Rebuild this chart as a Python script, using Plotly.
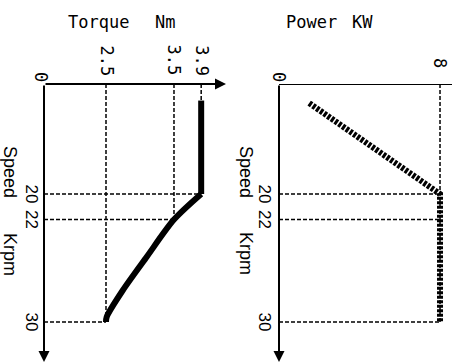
import plotly.graph_objects as go

W, H = 452, 363

# ---- data ----
speed_ticks = [20, 22, 30]
torque_ticks = [2.5, 3.5, 3.9]
power_ticks = [8]
torque_tick_text = ["2.5", "3.5", "3.9"]
power_tick_text = ["8"]
speed_tick_text = ["20", "22", "30"]

speed_const = [12.7, 20]
torque_const = [3.9, 3.9]
speed_weak = [20, 22, 24.9, 27.5, 29.6, 30]
torque_weak = [3.9, 3.5, 3.10, 2.75, 2.51, 2.5]
speed_power = [12.9, 20, 30]
power_vals = [1.5, 8, 8]

# ---- axis geometry (schematic axes; origin is a broken "0") ----
T_ORIG = 1.588          # torque value at the axis corner
P_ORIG = 0.0
S_TOP = 11.406          # speed value at the top axis line
S_BOT = 33.203
T_END = 4.265
P_END = 8.596

def px(x):
    return x / W

def py(y):
    return 1 - y / H

fig = go.Figure()
fig.add_trace(go.Scatter(x=torque_const, y=speed_const, mode="lines",
                         line=dict(color="black", width=6), xaxis="x", yaxis="y"))
fig.add_trace(go.Scatter(x=torque_weak, y=speed_weak, mode="lines",
                         line=dict(color="black", width=6, shape="spline", smoothing=0.8),
                         xaxis="x", yaxis="y"))
fig.add_trace(go.Scatter(x=power_vals, y=speed_power, mode="lines",
                         line=dict(color="black", width=6, dash="3px,1.5px"),
                         xaxis="x2", yaxis="y2"))

dash = dict(color="black", width=1.5, dash="4px,2px")
shapes = []
# torque panel guides
tq_limits = {20: 3.9, 22: 3.5, 30: 2.5}
for s in speed_ticks:
    shapes.append(dict(type="line", xref="x", yref="y", x0=T_ORIG, x1=tq_limits[s],
                       y0=s, y1=s, line=dash))
tq_vert = {2.5: 30, 3.5: 22, 3.9: speed_const[0]}
for t in torque_ticks:
    shapes.append(dict(type="line", xref="x", yref="y", x0=t, x1=t,
                       y0=S_TOP, y1=tq_vert[t], line=dash))
# power panel guides
for s in speed_ticks:
    shapes.append(dict(type="line", xref="x2", yref="y2", x0=P_ORIG, x1=power_ticks[0],
                       y0=s, y1=s, line=dash))
shapes.append(dict(type="line", xref="x2", yref="y2", x0=power_ticks[0], x1=power_ticks[0],
                   y0=S_TOP, y1=30, line=dash))
# power horizontal axis line
shapes.append(dict(type="line", xref="x2", yref="y2", x0=P_ORIG, x1=P_END,
                   y0=S_TOP, y1=S_TOP, line=dict(color="black", width=2)))

ann = []
arrow = dict(text="", showarrow=True, arrowhead=2, arrowsize=1.1, arrowwidth=2,
             arrowcolor="black", standoff=0, startstandoff=0)
# axes arrows
ann.append(dict(arrow, xref="paper", yref="paper", x=px(226), y=py(84), ax=-182, ay=0))
ann.append(dict(arrow, xref="paper", yref="paper", x=px(44), y=py(362), ax=0, ay=-278))
ann.append(dict(arrow, xref="paper", yref="paper", x=px(279), y=py(362), ax=0, ay=-278))

mono = dict(family="DejaVu Sans Mono", size=17, color="black")
sans = dict(family="Liberation Sans", size=17, color="black")
big = dict(family="Liberation Sans", size=18, color="black")

def label(**kw):
    d = dict(showarrow=False, xanchor="center", yanchor="middle")
    d.update(kw)
    return d

for t, lab in zip(torque_ticks, torque_tick_text):
    ann.append(label(text=lab, xref="x", yref="paper", x=t, y=py(78), textangle=90,
                     yanchor="bottom", font=mono))
for p, lab in zip(power_ticks, power_tick_text):
    ann.append(label(text=lab, xref="x2", yref="paper", x=p, y=py(70), textangle=90,
                     yanchor="bottom", font=mono))
ann.append(label(text="0", xref="paper", yref="paper", x=px(41), y=py(77), textangle=90,
                 font=mono))
ann.append(label(text="0", xref="paper", yref="paper", x=px(279), y=py(77), textangle=90,
                 font=mono))
for s, lab in zip(speed_ticks, speed_tick_text):
    ann.append(label(text=lab, xref="paper", yref="y", x=px(43), y=s, textangle=90,
                     xanchor="right", font=sans))
    ann.append(label(text=lab, xref="paper", yref="y2", x=px(276), y=s, textangle=90,
                     xanchor="right", font=sans))
for cx in (10, 246):
    ann.append(label(text="Speed", xref="paper", yref="paper", x=px(cx), y=py(172),
                     textangle=90, font=big))
    ann.append(label(text="Krpm", xref="paper", yref="paper", x=px(cx), y=py(254),
                     textangle=90, font=big))
for txt, cx in (("Torque", 98), ("Nm", 165), ("Power", 311), ("KW", 362)):
    ann.append(label(text=txt, xref="paper", yref="paper", x=px(cx), y=py(22), font=mono))

ax_common = dict(visible=False, showgrid=False, zeroline=False, fixedrange=True)
fig.update_layout(
    width=W, height=H, margin=dict(l=0, r=0, t=0, b=0),
    paper_bgcolor="white", plot_bgcolor="white", showlegend=False,
    xaxis=dict(ax_common, domain=[px(44), px(226)], range=[T_ORIG, T_END]),
    yaxis=dict(ax_common, domain=[0, py(84)], range=[S_BOT, S_TOP]),
    xaxis2=dict(ax_common, domain=[px(279), 1], range=[P_ORIG, P_END], anchor="y2"),
    yaxis2=dict(ax_common, domain=[0, py(84)], range=[S_BOT, S_TOP], anchor="x2"),
    shapes=shapes, annotations=ann,
)

fig.write_html("out.html", config={"displayModeBar": False},
               post_script="document.body.style.margin='0px';")
